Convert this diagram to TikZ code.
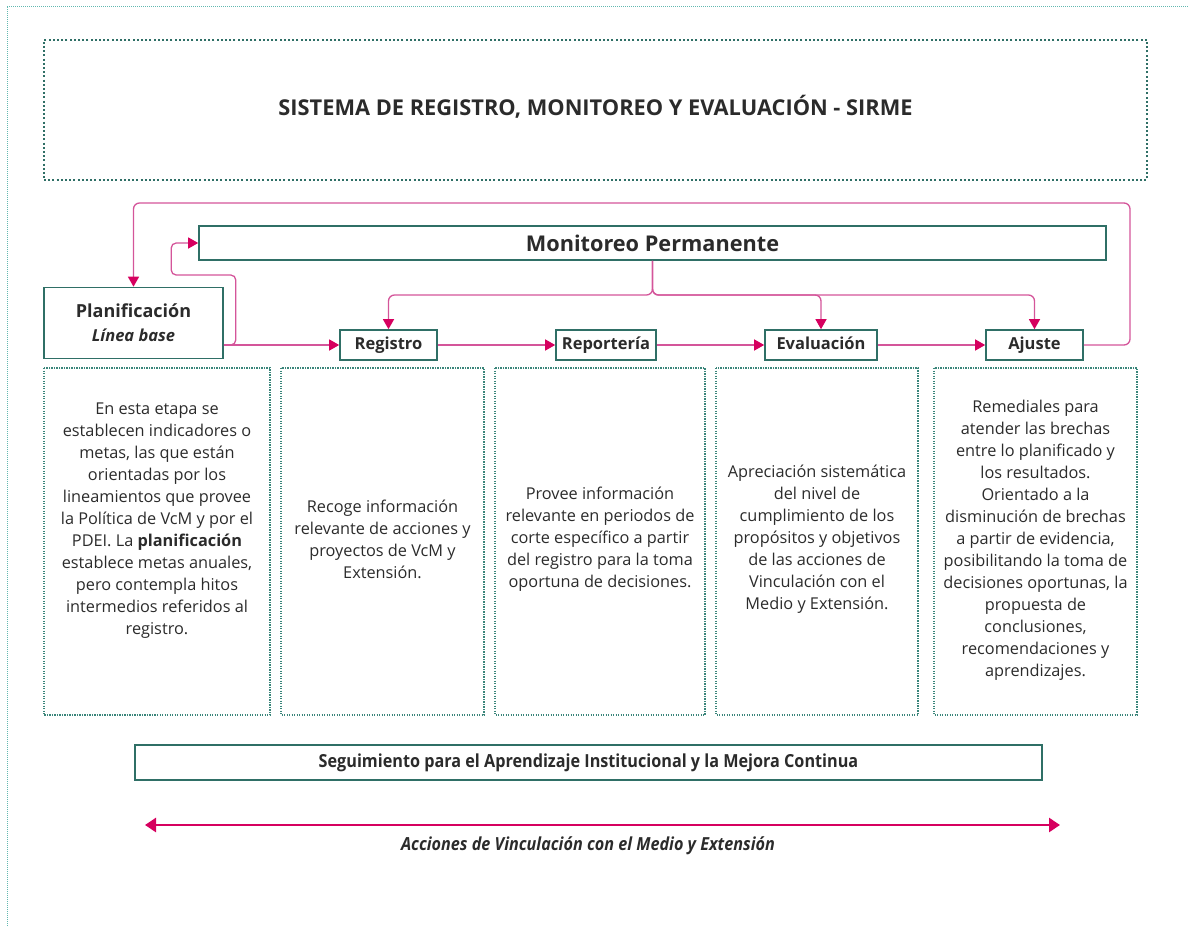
\documentclass[tikz,border=0pt]{standalone}
\usepackage{fontspec}
\setmainfont{Open Sans}
\newfontfamily\condensada[FakeStretch=0.9]{Open Sans}
\usetikzlibrary{arrows.meta}

\definecolor{verdeborde}{HTML}{2F6F66}
\definecolor{verdepunto}{HTML}{3A857A}
\definecolor{verdeclaro}{HTML}{62B8B0}
\definecolor{rosalinea}{HTML}{D4559A}
\definecolor{rosafuerte}{HTML}{D6005F}
\definecolor{gristexto}{HTML}{2B2B2B}

\tikzset{
  etapa/.style={draw=verdeborde, line width=1.6pt, fill=white, inner sep=0pt,
    text=gristexto, font=\bfseries\fontsize{16.5}{19}\selectfont},
  etapachica/.style={etapa, minimum height=30pt, text height=12pt, text depth=3pt},
  descripcion/.style={draw=verdepunto, line width=1.3pt, dash pattern=on 1.2pt off 1.3pt},
  textodesc/.style={text=gristexto, align=center, font=\fontsize{16.3}{22}\selectfont},
  flujo/.style={draw=rosalinea, line width=1.3pt, rounded corners=6pt,
    -{Triangle[length=10pt,width=11pt,color=rosafuerte]}},
}

\begin{document}
\begin{tikzpicture}[x=1pt,y=-1pt]
  \useasboundingbox (0,0) rectangle (1188,926);
  \draw[verdeclaro, line width=1pt, dash pattern=on 1pt off 1pt] (7,926) -- (7,6) -- (1188,6);

  % titulo
  \node[draw=verdeborde, line width=2.2pt, dash pattern=on 2pt off 2.2pt,
    minimum width=1103pt, minimum height=140pt] (titulo) at (595.5,110) {};
  \node[text=gristexto, font=\bfseries\fontsize{21.8}{26}\selectfont] (nombre) at (595.5,107)
    {SISTEMA DE REGISTRO, MONITOREO Y EVALUACIÓN - SIRME};

  % etapas
  \node[etapa, minimum width=907pt, minimum height=34pt,
    font=\bfseries\fontsize{21.7}{26}\selectfont] (moni) at (652.5,243) {Monitoreo Permanente};
  \node[etapa, minimum width=179pt, minimum height=71pt, align=center,
    font=\bfseries\fontsize{18}{24}\selectfont] (plan) at (133.5,323)
    {Planificación\\{\itshape\fontsize{16.5}{24}\selectfont Línea base}};
  \node[etapachica, minimum width=97pt] (reg) at (388.5,345) {Registro};
  \node[etapachica, minimum width=100pt] (rep) at (606,345) {Reportería};
  \node[etapachica, minimum width=112pt] (eva) at (821,345) {Evaluación};
  \node[etapachica, minimum width=97pt] (aju) at (1034.5,345) {Ajuste};

  % conectores
  \coordinate (retorno) at (1130,203);
  \coordinate (rama) at (652.5,295);
  \draw[flujo] (aju.east) -| (retorno) -| (plan.north);
  \draw[flujo] (reg.west -| plan.east) -- (reg.west);
  \draw[flujo, rounded corners=5pt] (reg.west -| plan.east) -- ++(12,0) -- ++(0,-70)
    -| ([xshift=-27pt]moni.west) -- (moni.west);
  \foreach \destino in {reg,eva,aju}
    \draw[flujo] (moni.south) -- (rama) -| (\destino.north);
  \foreach \desde/\hasta in {reg/rep,rep/eva,eva/aju}
    \draw[flujo] (\desde) -- (\hasta);

  % cajas de descripcion
  \foreach \xa/\xb in {44/270,281/484,495/705,716/918,934/1137}
    \draw[descripcion] (\xa,368) rectangle (\xb,715);

  \node[textodesc] (dplan) at (157,521) {En esta etapa se\\establecen indicadores o\\metas, las que están\\orientadas por los\\lineamientos que provee\\la Política de VcM y por el\\PDEI. La \textbf{planificación}\\establece metas anuales,\\pero contempla hitos\\intermedios referidos al\\registro.};
  \node[textodesc] (dreg) at (382.5,539) {Recoge información\\relevante de acciones y\\proyectos de VcM y\\Extensión.};
  \node[textodesc] (drep) at (600,539) {Provee información\\relevante en periodos de\\corte específico a partir\\del registro para la toma\\oportuna de decisiones.};
  \node[textodesc] (deva) at (817,539) {Apreciación sistemática\\del nivel de\\cumplimiento de los\\propósitos y objetivos\\de las acciones de\\Vinculación con el\\Medio y Extensión.};
  \node[textodesc] (daju) at (1035.5,540) {Remediales para\\atender las brechas\\entre lo planificado y\\los resultados.\\Orientado a la\\disminución de brechas\\a partir de evidencia,\\posibilitando la toma de\\decisiones oportunas, la\\propuesta de\\conclusiones,\\recomendaciones y\\aprendizajes.};

  % seguimiento y acciones
  \node[etapa, line width=1.4pt, minimum width=907pt, minimum height=35pt,
    font=\condensada\bfseries\fontsize{18}{22}\selectfont] (segui) at (588.5,762.5)
    {Seguimiento para el Aprendizaje Institucional y la Mejora Continua};
  \coordinate (izq) at (145,825);
  \coordinate (der) at (1060,825);
  \draw[draw=rosafuerte, line width=2.6pt,
    {Triangle[length=11pt,width=14pt]}-{Triangle[length=11pt,width=14pt]}] (izq) -- (der);
  \node[text=gristexto, font=\condensada\bfseries\itshape\fontsize{18}{22}\selectfont]
    (acciones) at (588,846) {Acciones de Vinculación con el Medio y Extensión};
\end{tikzpicture}
\end{document}
